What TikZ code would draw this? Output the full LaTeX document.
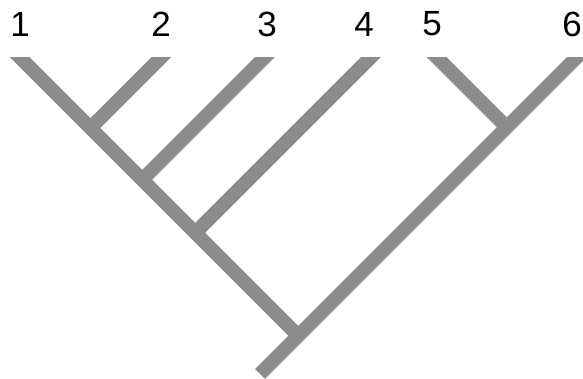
\documentclass[tikz,border=0pt]{standalone}
\usepackage{fontspec}
\setmainfont{Liberation Sans}
\definecolor{branch}{RGB}{140,140,140}
\begin{document}
\begin{tikzpicture}[x=1pt,y=-1pt,
  branchline/.style={draw=branch,line width=14pt,line cap=butt},
  leaflabel/.style={font=\fontsize{35}{35}\selectfont,inner sep=0pt,anchor=center}]
\useasboundingbox (0,0) rectangle (583,379);
% labels
\node[leaflabel] (n1) at (20,24) {1};
\node[leaflabel] (n2) at (161,24) {2};
\node[leaflabel] (n3) at (267,24) {3};
\node[leaflabel] (n4) at (364,24) {4};
\node[leaflabel] (n5) at (432,24) {5};
\node[leaflabel] (n6) at (572,24) {6};
% coordinates (tops extended above the cut)
\coordinate (t1) at (0.5,38);
\coordinate (t2) at (180.5,38);
\coordinate (t3) at (284,38);
\coordinate (t4) at (390,38);
\coordinate (t5) at (417.5,38);
\coordinate (t6) at (596,38);
\coordinate (j2) at (90.5,128);
\coordinate (j3) at (142,180);
\coordinate (j4) at (195,233);
\coordinate (j5) at (506.75,127.25);
\coordinate (r) at (298.25,335.75);
\coordinate (b) at (260,374);
\begin{scope}
\clip (0,58) rectangle (583,379);
\draw[branchline] (t1) -- (r);
\draw[branchline] (t2) -- (j2);
\draw[branchline] (t3) -- (j3);
\draw[branchline] (t4) -- (j4);
\draw[branchline] (t5) -- (j5);
\draw[branchline] (t6) -- (b);
\end{scope}
\end{tikzpicture}
\end{document}
